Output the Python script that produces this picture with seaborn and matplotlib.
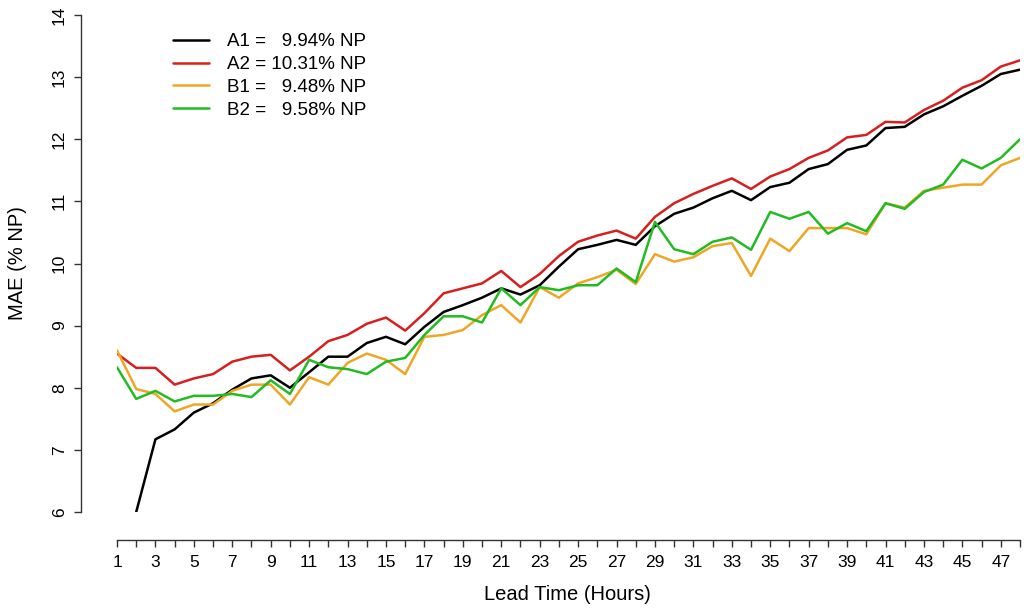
"""
MAE by lead time for four forecast models (A1, A2, B1, B2).
"""

import numpy as np
import pandas as pd
import matplotlib
matplotlib.use("Agg")
import matplotlib.pyplot as plt
import seaborn as sns

# Data
hours = list(range(1, 49))

a1 = [np.nan, 6.00, 7.17, 7.33, 7.60, 7.75, 7.97, 8.15, 8.20, 8.00,
      8.25, 8.50, 8.50, 8.72, 8.82, 8.70, 8.98, 9.22, 9.33, 9.45,
      9.60, 9.50, 9.65, 9.95, 10.23, 10.30, 10.38, 10.30, 10.60, 10.80,
      10.90, 11.05, 11.17, 11.02, 11.23, 11.30, 11.52, 11.60, 11.83, 11.90,
      12.18, 12.20, 12.40, 12.53, 12.70, 12.86, 13.05, 13.12]
a2 = [8.55, 8.32, 8.32, 8.05, 8.15, 8.22, 8.42, 8.50, 8.53, 8.28,
      8.50, 8.75, 8.85, 9.03, 9.13, 8.92, 9.20, 9.52, 9.60, 9.68,
      9.88, 9.62, 9.83, 10.12, 10.35, 10.45, 10.53, 10.40, 10.75, 10.97,
      11.12, 11.25, 11.37, 11.20, 11.40, 11.52, 11.70, 11.82, 12.03, 12.07,
      12.28, 12.27, 12.47, 12.62, 12.83, 12.95, 13.17, 13.27]
b1 = [8.60, 7.98, 7.90, 7.62, 7.73, 7.73, 7.95, 8.05, 8.05, 7.73,
      8.17, 8.05, 8.40, 8.55, 8.45, 8.22, 8.82, 8.85, 8.93, 9.17,
      9.33, 9.05, 9.62, 9.45, 9.68, 9.78, 9.90, 9.67, 10.15, 10.03,
      10.10, 10.28, 10.33, 9.80, 10.40, 10.20, 10.57, 10.57, 10.57, 10.47,
      10.97, 10.90, 11.17, 11.22, 11.27, 11.27, 11.58, 11.70]
b2 = [8.33, 7.82, 7.95, 7.78, 7.87, 7.87, 7.90, 7.85, 8.12, 7.90,
      8.45, 8.33, 8.30, 8.22, 8.42, 8.48, 8.85, 9.15, 9.15, 9.05,
      9.60, 9.33, 9.62, 9.57, 9.65, 9.65, 9.92, 9.70, 10.67, 10.23,
      10.15, 10.35, 10.42, 10.22, 10.83, 10.72, 10.83, 10.48, 10.65, 10.52,
      10.97, 10.88, 11.15, 11.27, 11.67, 11.53, 11.70, 12.00]

labels = ["A1 =   9.94% NP", "A2 = 10.31% NP", "B1 =   9.48% NP", "B2 =   9.58% NP"]
colors = ["#000000", "#D61F1F", "#EFA625", "#22BB22"]

df = pd.DataFrame({
    "hour": hours * 4,
    "mae": a1 + a2 + b1 + b2,
    "model": [lab for lab in labels for _ in hours],
})

sns.set_theme(style="white", rc={"text.color": "black", "xtick.color": "black",
                                  "ytick.color": "black"})
plt.rcParams["font.family"] = ["Liberation Sans", "DejaVu Sans"]

fig = plt.figure(figsize=(10.24, 6.13), dpi=100)
ax = fig.add_axes([117 / 1024, 101 / 613, 903 / 1024, 497 / 613])

sns.lineplot(data=df, x="hour", y="mae", hue="model", hue_order=labels,
             palette=colors, errorbar=None, linewidth=1.8, ax=ax)

ax.set_xlim(1, 48)
ax.set_ylim(6, 14)

# R-style detached axes
for side in ["top", "right"]:
    ax.spines[side].set_visible(False)
ax.spines["left"].set_position(("outward", 26))
ax.spines["bottom"].set_position(("outward", 20))
ax.spines["left"].set_bounds(6, 14)
ax.spines["bottom"].set_bounds(1, 48)
for side in ["left", "bottom"]:
    ax.spines[side].set_color("#333333")
    ax.spines[side].set_linewidth(1.0)

ax.set_xticks(hours)
ax.set_xticklabels([str(h) if h % 2 == 1 else "" for h in hours])
ax.set_yticks(range(6, 15))
ax.tick_params(axis="both", direction="out", length=5, width=1.0,
               color="#333333", labelcolor="black", labelsize=12.5,
               left=True, bottom=True)
ax.tick_params(axis="x", pad=6)
ax.tick_params(axis="y", pad=5, labelrotation=90)
for lab in ax.get_yticklabels():
    lab.set_va("center")

ax.set_xlabel("")
ax.set_ylabel("")
fig.text(567 / 1024, 1 - 595 / 613, "Lead Time (Hours)", ha="center", va="center",
         fontsize=14.5, color="black")
fig.text(18 / 1024, 1 - 263 / 613, "MAE (% NP)", ha="center", va="center",
         rotation=90, fontsize=14.5, color="black")

leg = ax.legend(loc="upper left", bbox_to_anchor=(164 / 1024, 1 - 24 / 613),
                bbox_transform=fig.transFigure, frameon=False, fontsize=13.5,
                handlelength=1.9, handletextpad=0.95, labelspacing=0.3, borderpad=0)
for txt in leg.get_texts():
    txt.set_color("black")

fig.savefig("out.png", dpi=100)
